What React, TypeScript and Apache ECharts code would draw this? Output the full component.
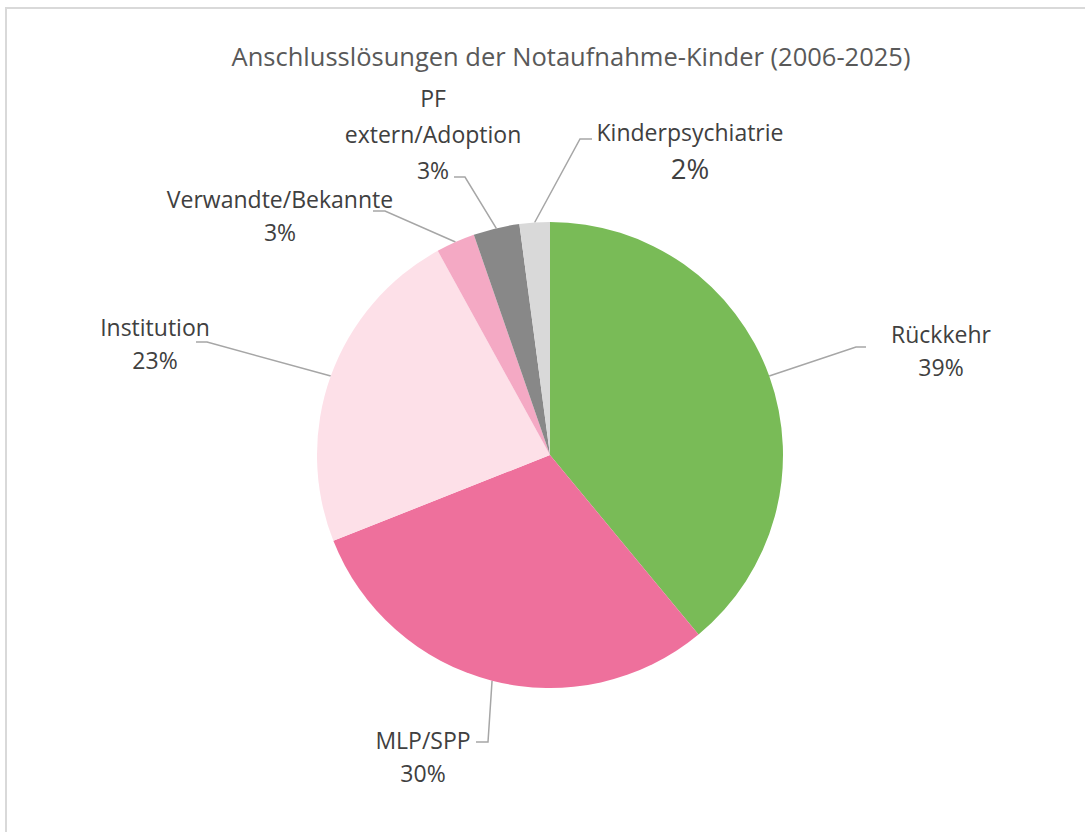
import React, { useEffect, useRef } from "react";
import * as echarts from "echarts";

const categories = [
  "Rückkehr",
  "MLP/SPP",
  "Institution",
  "Verwandte/Bekannte",
  "PF\nextern/Adoption",
  "Kinderpsychiatrie",
];
const values = [39, 30, 23, 2.7, 3.2, 2.1];
const colors = ["#79BB57", "#EE709C", "#FDE0E8", "#F4A9C4", "#888888", "#D9D9D9"];
const titleText = "Anschlusslösungen der Notaufnahme-Kinder (2006-2025)";

// label layout: [centerX, centerY, bendX, bendY, endX, endY]
const labelLayoutPos = [
  [941, 350, 856, 347, 866, 347],
  [423, 756, 488, 742, 476, 742],
  [155, 343, 207, 342, 196, 342],
  [280, 215, 385, 211, 373, 211],
  [433, 134, 465, 177, 454, 177],
  [690, 150, 580, 139, 592, 139],
];

export default function App() {
  const ref = useRef<HTMLDivElement>(null);
  useEffect(() => {
    const chart = echarts.init(ref.current!, null, { renderer: "svg" });
    const font = "'Open Sans', 'Noto Sans', sans-serif";
    chart.setOption({
      animation: false,
      backgroundColor: "#ffffff",
      title: {
        text: titleText,
        left: 566,
        top: 38,
        textAlign: "center",
        textStyle: { fontFamily: font, fontSize: 25.5, fontWeight: "normal", color: "#595959" },
      },
      graphic: [
        {
          type: "rect",
          shape: { x: 6, y: 8, width: 1200, height: 1000 },
          style: { fill: "none", stroke: "#D9D9D9", lineWidth: 2 },
          silent: true,
        },
      ],
      series: [
        {
          type: "pie",
          center: [550, 455],
          radius: 233,
          startAngle: 90,
          clockwise: true,
          data: categories.map((c, i) => ({
            name: c,
            value: values[i],
            itemStyle: { color: colors[i] },
          })),
          label: {
            show: true,
            position: "outside",
            fontFamily: font,
            fontSize: 23,
            color: "#404040",
            lineHeight: 33,
            align: "center",
            formatter: (p: any) => {
              const pct = Math.round(p.percent) + "%";
              if (p.dataIndex === 5) return "{n|" + p.name + "}\n{b|" + pct + "}";
              if (p.dataIndex === 4) return "{m|" + p.name + "}\n{m|" + pct + "}";
              return p.name + "\n" + pct;
            },
            rich: {
              n: { fontFamily: font, fontSize: 23, color: "#404040", lineHeight: 37 },
              b: { fontFamily: font, fontSize: 27.5, color: "#404040", lineHeight: 37 },
              m: { fontFamily: font, fontSize: 23, color: "#404040", lineHeight: 36 },
            },
          },
          labelLine: {
            show: true,
            lineStyle: { color: "#A6A6A6", width: 1.5 },
          },
          labelLayout: (params: any) => {
            const i = params.dataIndex;
            const p = labelLayoutPos[i];
            const start = params.labelLinePoints ? params.labelLinePoints[0] : [p[2], p[3]];
            return {
              x: p[0],
              y: p[1],
              align: "center",
              verticalAlign: "middle",
              labelLinePoints: [start, [p[2], p[3]], [p[4], p[5]]],
            };
          },
        },
      ],
    });
    return () => chart.dispose();
  }, []);
  return (
    <div
      ref={ref}
      style={{ position: "fixed", left: 0, top: 0, width: 1085, height: 832 }}
    />
  );
}
